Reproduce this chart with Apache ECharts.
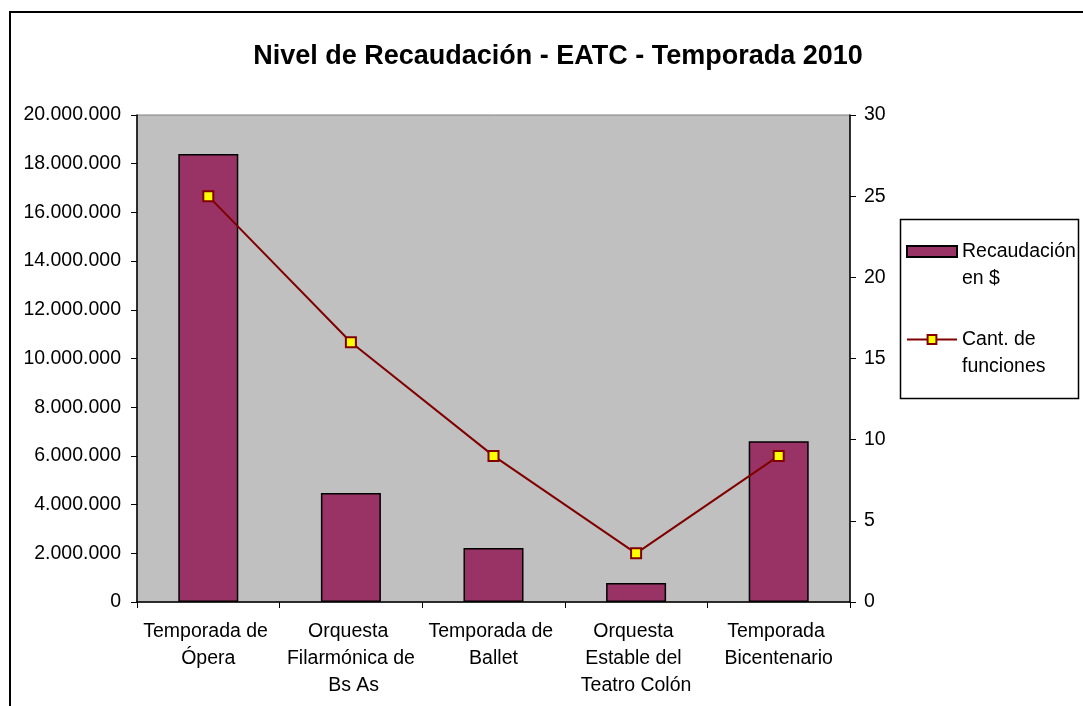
<!DOCTYPE html>
<html>
<head>
<meta charset="utf-8">
<script src="https://cdn.jsdelivr.net/npm/echarts@6/dist/echarts.min.js"></script>
<style>
  html, body { margin: 0; padding: 0; background: #fff; }
  #chart { width: 1083px; height: 706px; }
</style>
</head>
<body>
<div id="chart"></div>
<script>
const categories = [
  'Temporada de Ópera',
  'Orquesta Filarmónica de Bs As',
  'Temporada de Ballet',
  'Orquesta Estable del Teatro Colón',
  'Temporada Bicentenario'
];
const recaudacion = [18400000, 4480000, 2220000, 780000, 6600000];
const funciones = [25, 16, 9, 3, 9];

const FONT = '"Liberation Sans", Arial, sans-serif';

const fmtMiles = v => String(v).replace(/\B(?=(\d{3})+(?!\d))/g, '.');

const chart = echarts.init(document.getElementById('chart'));

const option = {
  backgroundColor: '#ffffff',
  animation: false,
  title: {
    text: 'Nivel de Recaudación - EATC - Temporada 2010',
    left: 553,
    textAlign: 'center',
    top: 38,
    textStyle: { fontFamily: FONT, fontSize: 27, fontWeight: 'bold', color: '#000' }
  },
  legend: {
    orient: 'vertical',
    left: 906,
    top: 211,
    padding: 0,
    itemWidth: 50,
    itemHeight: 11,
    itemGap: 7,
    textStyle: {
      fontFamily: FONT,
      fontSize: 19.5,
      color: '#000',
      lineHeight: 27
    },
    // leading blank line keeps the first text line level with the icon
    formatter: name => name === 'Recaudación en $' ? ' \nRecaudación\nen $' : ' \nCant. de\nfunciones',
    data: [
      { name: 'Recaudación en $', icon: 'rect' },
      { name: 'Cant. de funciones' }
    ]
  },
  graphic: [
    {
      type: 'rect',
      shape: { x: 10, y: 12, width: 1090, height: 710 },
      style: { fill: 'none', stroke: '#000', lineWidth: 2 },
      silent: true
    },
    {
      type: 'rect',
      shape: { x: 900.5, y: 219.5, width: 178, height: 179 },
      style: { fill: 'none', stroke: '#000', lineWidth: 1.5 },
      silent: true
    }
  ],
  grid: {
    left: 137,
    top: 115,
    width: 713,
    height: 487,
    show: true,
    backgroundColor: '#C0C0C0',
    borderColor: '#808080',
    borderWidth: 1
  },
  xAxis: {
    type: 'category',
    data: categories,
    boundaryGap: true,
    axisLine: { lineStyle: { color: '#000', width: 1.5 } },
    axisTick: { show: true, length: 6, alignWithLabel: false, lineStyle: { color: '#000' } },
    axisLabel: {
      interval: 0,
      margin: 16,
      color: '#000',
      fontFamily: FONT,
      fontSize: 19.5,
      lineHeight: 27,
      width: 142,
      overflow: 'break'
    }
  },
  yAxis: [
    {
      type: 'value',
      min: 0,
      max: 20000000,
      interval: 2000000,
      position: 'left',
      splitLine: { show: false },
      axisLine: { show: true, lineStyle: { color: '#000', width: 1.5 } },
      axisTick: { show: true, length: 6, lineStyle: { color: '#000' } },
      axisLabel: {
        margin: 16,
        color: '#000',
        fontFamily: FONT,
        fontSize: 19.5,
        formatter: v => fmtMiles(v)
      }
    },
    {
      type: 'value',
      min: 0,
      max: 30,
      interval: 5,
      position: 'right',
      splitLine: { show: false },
      axisLine: { show: true, lineStyle: { color: '#000', width: 1.5 } },
      axisTick: { show: true, length: 6, lineStyle: { color: '#000' } },
      axisLabel: {
        margin: 14,
        color: '#000',
        fontFamily: FONT,
        fontSize: 19.5
      }
    }
  ],
  series: [
    {
      name: 'Recaudación en $',
      type: 'bar',
      yAxisIndex: 0,
      barWidth: 60,
      data: recaudacion,
      itemStyle: { color: '#993366', borderColor: '#000', borderWidth: 1.5 }
    },
    {
      name: 'Cant. de funciones',
      type: 'line',
      yAxisIndex: 1,
      data: funciones,
      symbol: 'rect',
      symbolSize: 10,
      lineStyle: { color: '#800000', width: 2 },
      itemStyle: { color: '#FFFF00', borderColor: '#800000', borderWidth: 2 }
    }
  ]
};

chart.setOption(option);
</script>
</body>
</html>
